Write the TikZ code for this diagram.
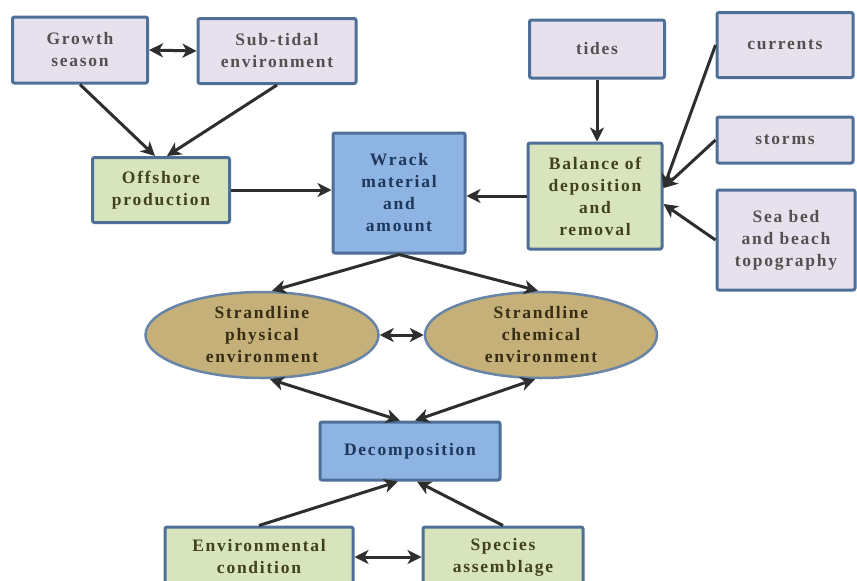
\documentclass[tikz,border=0pt]{standalone}
\usepackage{fontspec}
\setmainfont{Liberation Serif}
\newfontfamily\boxfont[LetterSpace=10]{Liberation Serif}
\usetikzlibrary{arrows.meta,shapes.geometric}

\definecolor{lavfill}{HTML}{E6E1ED}
\definecolor{greenfill}{HTML}{D8E4BC}
\definecolor{bluefill}{HTML}{8DB4E2}
\definecolor{strandfill}{HTML}{C4B078}
\definecolor{edgeblue}{HTML}{4D6F98}
\definecolor{arrowgray}{HTML}{2E2E2E}

\tikzset{
  box/.style={draw=edgeblue,line width=3pt,rounded corners=2pt,align=center,
    inner sep=2pt,font=\boxfont\bfseries\fontsize{17.5}{22}\selectfont},
  lavbox/.style={box,fill=lavfill,text={rgb,255:red,85;green,80;blue,80}},
  greenbox/.style={box,fill=greenfill,text={rgb,255:red,65;green,65;blue,30}},
  bluebox/.style={box,fill=bluefill,text={rgb,255:red,30;green,55;blue,90}},
  strand/.style={ellipse,draw=edgeblue!85,line width=2.5pt,fill=strandfill,align=center,
    inner sep=0pt,text={rgb,255:red,55;green,45;blue,20},
    font=\boxfont\bfseries\fontsize{17.5}{22}\selectfont},
  link/.style={draw=arrowgray,line width=3pt,-{Stealth[length=14pt,width=14pt,inset=4pt]}},
  twoway/.style={draw=arrowgray,line width=3pt,
    {Stealth[length=14pt,width=14pt,inset=4pt]}-{Stealth[length=14pt,width=14pt,inset=4pt]}}
}

\begin{document}
\begin{tikzpicture}[x=1pt,y=-1pt]
\fill[white] (0,0) rectangle (857,581);
\useasboundingbox (0,0) rectangle (857,581);

% top row
\node[lavbox,minimum width=135pt,minimum height=66pt] (growth) at (80,50) {Growth\\season};
\node[lavbox,minimum width=158pt,minimum height=65pt] (subtidal) at (277,51) {Sub-tidal\\environment};
\node[lavbox,minimum width=135pt,minimum height=58pt] (tides) at (597,49) {tides};
\node[lavbox,minimum width=136pt,minimum height=65pt] (currents) at (785,45) {currents};
\node[lavbox,minimum width=136pt,minimum height=46pt] (storms) at (785,140) {storms};
\node[lavbox,minimum width=138pt,minimum height=100pt] (seabed) at (786,240) {Sea bed\\and beach\\topography};

% middle row
\node[greenbox,minimum width=137pt,minimum height=65pt] (offshore) at (161,190) {Offshore\\production};
\node[bluebox,minimum width=132pt,minimum height=120pt] (wrack) at (399,193) {Wrack\\material\\and\\amount};
\node[greenbox,minimum width=134pt,minimum height=106pt] (balance) at (595,196) {Balance of\\deposition\\and\\removal};

% strandline
\node[strand,minimum width=233pt,minimum height=86pt] (physical) at (262,335) {Strandline\\physical\\environment};
\node[strand,minimum width=232pt,minimum height=86pt] (chemical) at (541,335) {Strandline\\chemical\\environment};

% bottom
\node[bluebox,minimum width=180pt,minimum height=58pt] (decomp) at (410,451) {Decomposition};
\node[greenbox,minimum width=188pt,minimum height=60pt] (envcond) at (259,557) {Environmental\\condition};
\node[greenbox,minimum width=160pt,minimum height=60pt] (species) at (503,557) {Species\\assemblage};

% connectors
\draw[twoway] (growth.east) -- (subtidal.west);
\draw[link] (growth.south) -- ([xshift=-6pt]offshore.north);
\draw[link] (subtidal.south) -- ([xshift=6pt]offshore.north);
\draw[link] (offshore.east) -- (offshore.east -| wrack.west);
\draw[link] (balance.west) -- (balance.west -| wrack.east);
\draw[link] (tides.south) -- (tides.south |- balance.north);
\draw[link] (currents.west) -- ([yshift=8pt]balance.east);
\draw[link] (storms.west) -- ([yshift=8pt]balance.east);
\draw[link] (seabed.west) -- ([yshift=-8pt]balance.east);
\draw[link] (wrack.south) -- ([xshift=10pt]physical.north);
\draw[link] (wrack.south) -- ([xshift=-3pt]chemical.north);
\draw[twoway] (physical.east) -- (chemical.west);
\draw[twoway] ([xshift=8pt]physical.south) -- ([xshift=-10pt]decomp.north);
\draw[twoway] ([xshift=-6pt]chemical.south) -- ([xshift=5pt]decomp.north);
\draw[link] (envcond.north) -- ([xshift=-12pt]decomp.south);
\draw[link] (species.north) -- ([xshift=7pt]decomp.south);
\draw[twoway] (envcond.east) -- (species.west);
\end{tikzpicture}
\end{document}
